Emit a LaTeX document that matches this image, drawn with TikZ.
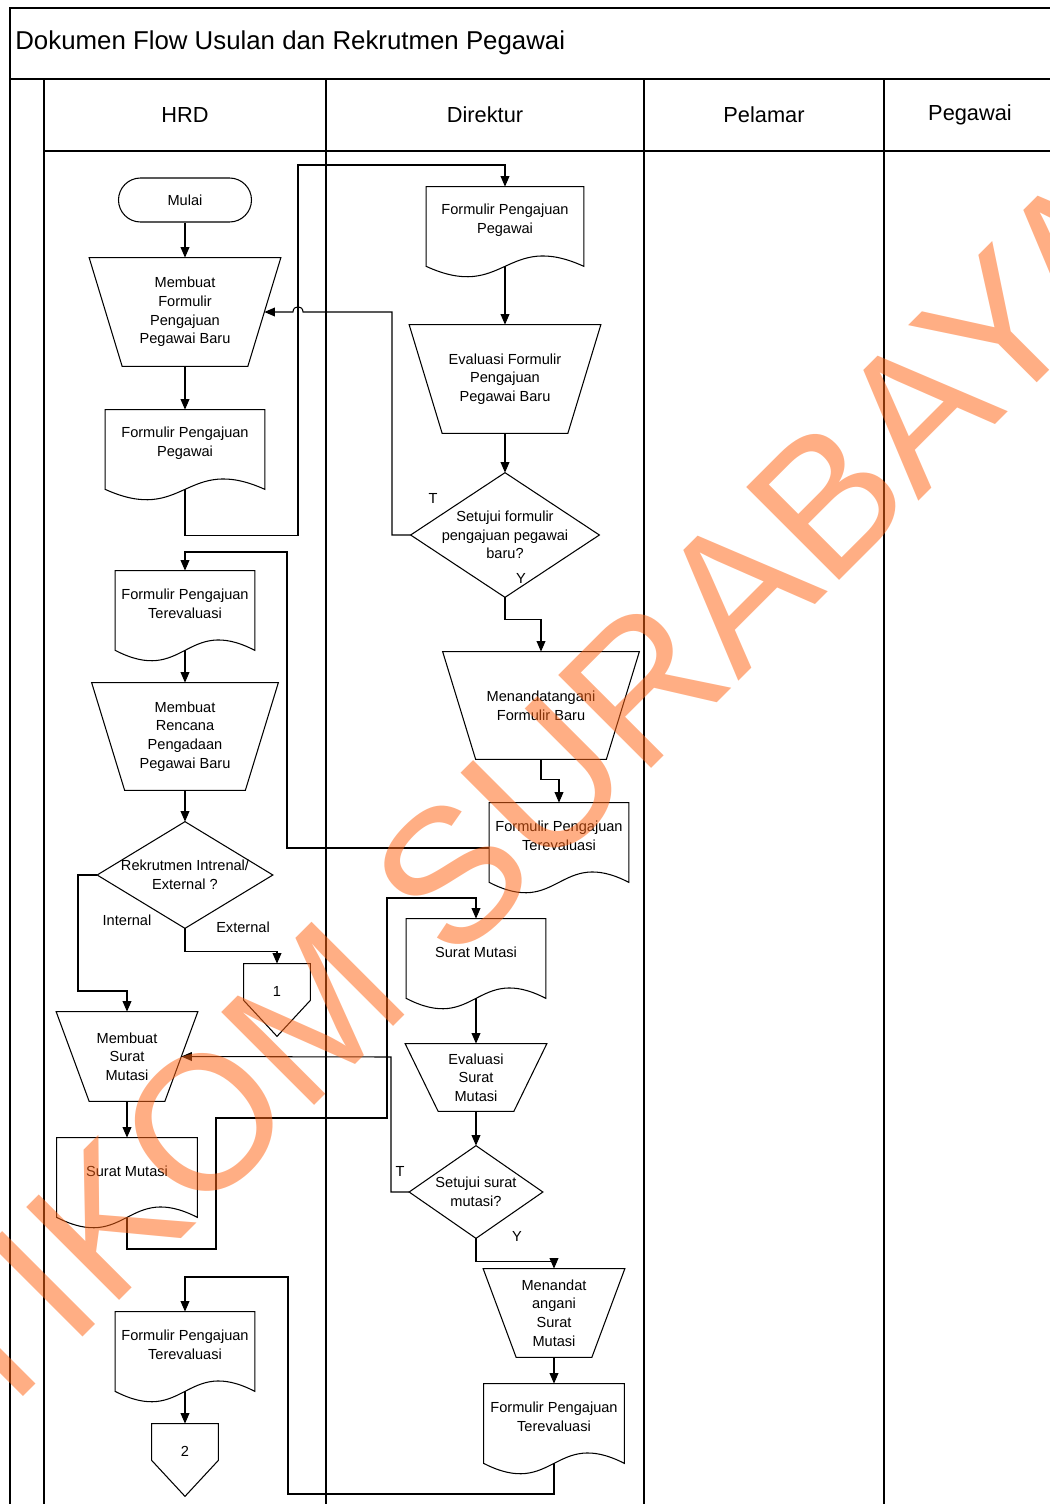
\documentclass[tikz,border=0pt]{standalone}
\usepackage{fontspec}
\setmainfont{Liberation Sans}
\usepackage{tikz}
\usetikzlibrary{positioning, arrows.meta, calc}
\definecolor{wmorange}{RGB}{255,100,20}
\newlength{\pxl}
\setlength{\pxl}{0.02cm}

\begin{document}
\begin{tikzpicture}[
  x=0.02cm, y=-0.02cm,
  font=\fontsize{8.3}{10.6}\selectfont,
  line/.style={line width=0.6pt},
  arr/.style={line, -{Triangle[length=6pt, width=5pt]}},
  frame/.style={line width=0.8pt},
  lane/.style={font=\fontsize{12.4}{14}\selectfont},
  term/.style={draw, line, rectangle, rounded corners=22\pxl, minimum width=133\pxl, minimum height=44\pxl},
  manop/.style 2 args={rectangle, inner sep=0pt, align=center, minimum width=#1\pxl, minimum height=#2\pxl,
    append after command={\pgfextra{\edef\shpnm{\tikzlastnode}
      \draw[line] (\shpnm.north west) -- (\shpnm.north east)
        -- ([xshift=-33\pxl]\shpnm.south east) -- ([xshift=33\pxl]\shpnm.south west) -- cycle;
      \coordinate (\shpnm-e) at ([xshift=-16.5\pxl]\shpnm.east);}}},
  doc/.style={rectangle, inner sep=0pt, align=center, minimum width=#1\pxl, minimum height=66\pxl,
    append after command={\pgfextra{\edef\shpnm{\tikzlastnode}
      \draw[line] ([yshift=-13\pxl]\shpnm.south east) -- (\shpnm.north east) -- (\shpnm.north west)
        -- ([yshift=-13\pxl]\shpnm.south west)
        .. controls ([yshift=-49\pxl]\shpnm.south) and ([yshift=23\pxl]\shpnm.south) .. ([yshift=-13\pxl]\shpnm.south east) -- cycle;
      \coordinate (\shpnm-b) at ([yshift=-13\pxl]\shpnm.south);}}},
  decision/.style 2 args={rectangle, inner sep=0pt, align=center, minimum width=#1\pxl, minimum height=#2\pxl,
    append after command={\pgfextra{\edef\shpnm{\tikzlastnode}
      \draw[line] (\shpnm.north) -- (\shpnm.east) -- (\shpnm.south) -- (\shpnm.west) -- cycle;}}},
  offpage/.style={rectangle, inner sep=0pt, minimum width=66\pxl, minimum height=54\pxl,
    append after command={\pgfextra{\edef\shpnm{\tikzlastnode}
      \draw[line] ([yshift=18\pxl]\shpnm.south west) -- (\shpnm.north west) -- (\shpnm.north east)
        -- ([yshift=18\pxl]\shpnm.south east) -- ([yshift=-18\pxl]\shpnm.south) -- cycle;}}},
  watermark/.style={text=wmorange, text opacity=0.52, inner sep=0pt, font=\fontsize{108.7}{120}\selectfont}
]

\useasboundingbox (0,0) rectangle (1050,1504);
\clip (0,0) rectangle (1050,1504);

% Pool and lanes
\draw[frame] (10,1520) -- (10,8) -- (1056,8);
\draw[line width=1.6pt] (10,79) -- (1056,79);
\foreach \lx in {44,326,644,884,1056} \draw[frame] (\lx,79) -- (\lx,1520);
\draw[frame] (44,151) -- (1056,151);

\node[anchor=west, inner sep=0pt, font=\fontsize{14.7}{17}\selectfont] (judul) at (15,43) {Dokumen Flow Usulan dan Rekrutmen Pegawai};
\node[lane] (hrd) at (185,115) {HRD};
\node[lane] (direktur) at (485,115) {Direktur};
\node[lane] (pelamar) at (764,115) {Pelamar};
\node[lane] (pegawai) at (970,115) {Pegawai};

% HRD
\node[term] (mulai) at (185,200) {Mulai};
\node[manop={191}{108}] (buatForm) at (185,312) {Membuat\\Formulir\\Pengajuan\\Pegawai Baru};
\node[doc=159] (formHRD) at (185,443) {Formulir Pengajuan\\Pegawai};
\node[doc=139] (formEval) at (185,604) {Formulir Pengajuan\\Terevaluasi};
\node[manop={186}{107}] (buatRencana) at (185,736.5) {Membuat\\Rencana\\Pengadaan\\Pegawai Baru};
\node[decision={175}{106}] (rekrutmen) at (185,875) {Rekrutmen Intrenal/\\External ?};
\node[offpage] (ke1) at (277,991) {1};
\node[manop={141}{89}] (buatMutasi) at (127,1056.5) {Membuat\\Surat\\Mutasi};
\node[doc=140] (suratHRD) at (127,1171) {Surat Mutasi};
\node[doc=139] (formHRD2) at (185,1345) {Formulir Pengajuan\\Terevaluasi};
\node[offpage] (ke2) at (185,1451) {2};

% Direktur
\node[doc=157] (formDir) at (505,220) {Formulir Pengajuan\\Pegawai};
\node[manop={191}{108}] (evalForm) at (505,379) {Evaluasi Formulir\\Pengajuan\\Pegawai Baru};
\node[decision={188}{124}] (setuju) at (505,535) {Setujui formulir\\pengajuan pegawai\\baru?};
\node[manop={196}{107}] (tandaForm) at (541,705.5) {Menandatangani\\Formulir Baru};
\node[doc=139] (formTTD) at (559,836) {Formulir Pengajuan\\Terevaluasi};
\node[doc=139] (suratDir) at (476,952) {Surat Mutasi};
\node[manop={141}{67}] (evalMutasi) at (476,1077.5) {Evaluasi\\Surat\\Mutasi};
\node[decision={133}{92}] (setujuMutasi) at (476,1192) {Setujui surat\\mutasi?};
\node[manop={141}{88}] (tandaMutasi) at (554,1313) {Menandat\\angani\\Surat\\Mutasi};
\node[doc=140] (formDir2) at (554,1417) {Formulir Pengajuan\\Terevaluasi};

% Branch labels
\node (lblT1) at (433,498) {T};
\node (lblY1) at (521,578) {Y};
\node (lblInternal) at (127,920) {Internal};
\node (lblExternal) at (243,927) {External};
\node (lblT2) at (400,1171) {T};
\node (lblY2) at (517,1236) {Y};

% Connections
\draw[arr] (mulai) -- (buatForm);
\draw[arr] (buatForm) -- (formHRD);
\draw[arr] (formHRD-b) -- ++(0,46) -| (298,165) -| (formDir.north);
\draw[arr] (formDir-b) -- (evalForm.north);
\draw[arr] (evalForm) -- (setuju);
\draw[arr] (setuju.west) -| (392,312) -- (303,312) .. controls (303,305) and (293,305) .. (293,312) -- (buatForm-e);
\draw[arr] (setuju.south) -- ++(0,22) -| (tandaForm.north);
\draw[arr] (tandaForm.south) -- ++(0,20) -| (formTTD.north);
\draw[arr] ([yshift=-12\pxl]formTTD.west) -| (287,552) -| (formEval.north);
\draw[arr] (formEval-b) -- (buatRencana.north);
\draw[arr] (buatRencana) -- (rekrutmen);
\draw[arr] (rekrutmen.west) -| (78,991) -| (buatMutasi.north);
\draw[arr] (rekrutmen.south) -- ++(0,23) -| (ke1.north);
\draw[arr] (buatMutasi) -- (suratHRD);
\draw[arr] (suratHRD-b) |- (216,1249) |- (387,1118) -- (387,898) -| (suratDir.north);
\draw[arr] (suratDir-b) -- (evalMutasi.north);
\draw[arr] (evalMutasi) -- (setujuMutasi);
\draw[arr] (setujuMutasi.west) -| (391,1057) -- (buatMutasi-e);
\draw[arr] (setujuMutasi.south) -- ++(0,23) -| (tandaMutasi.north);
\draw[arr] (tandaMutasi) -- (formDir2);
\draw[arr] (formDir2-b) |- (288,1494) -- (288,1277) -| (formHRD2.north);
\draw[arr] (formHRD2-b) -- (ke2.north);

% Watermark
\node[watermark, anchor=base west, rotate=45] (stikom) at (-102,1522) {STIKOM SURABAYA};

\end{tikzpicture}
\end{document}
